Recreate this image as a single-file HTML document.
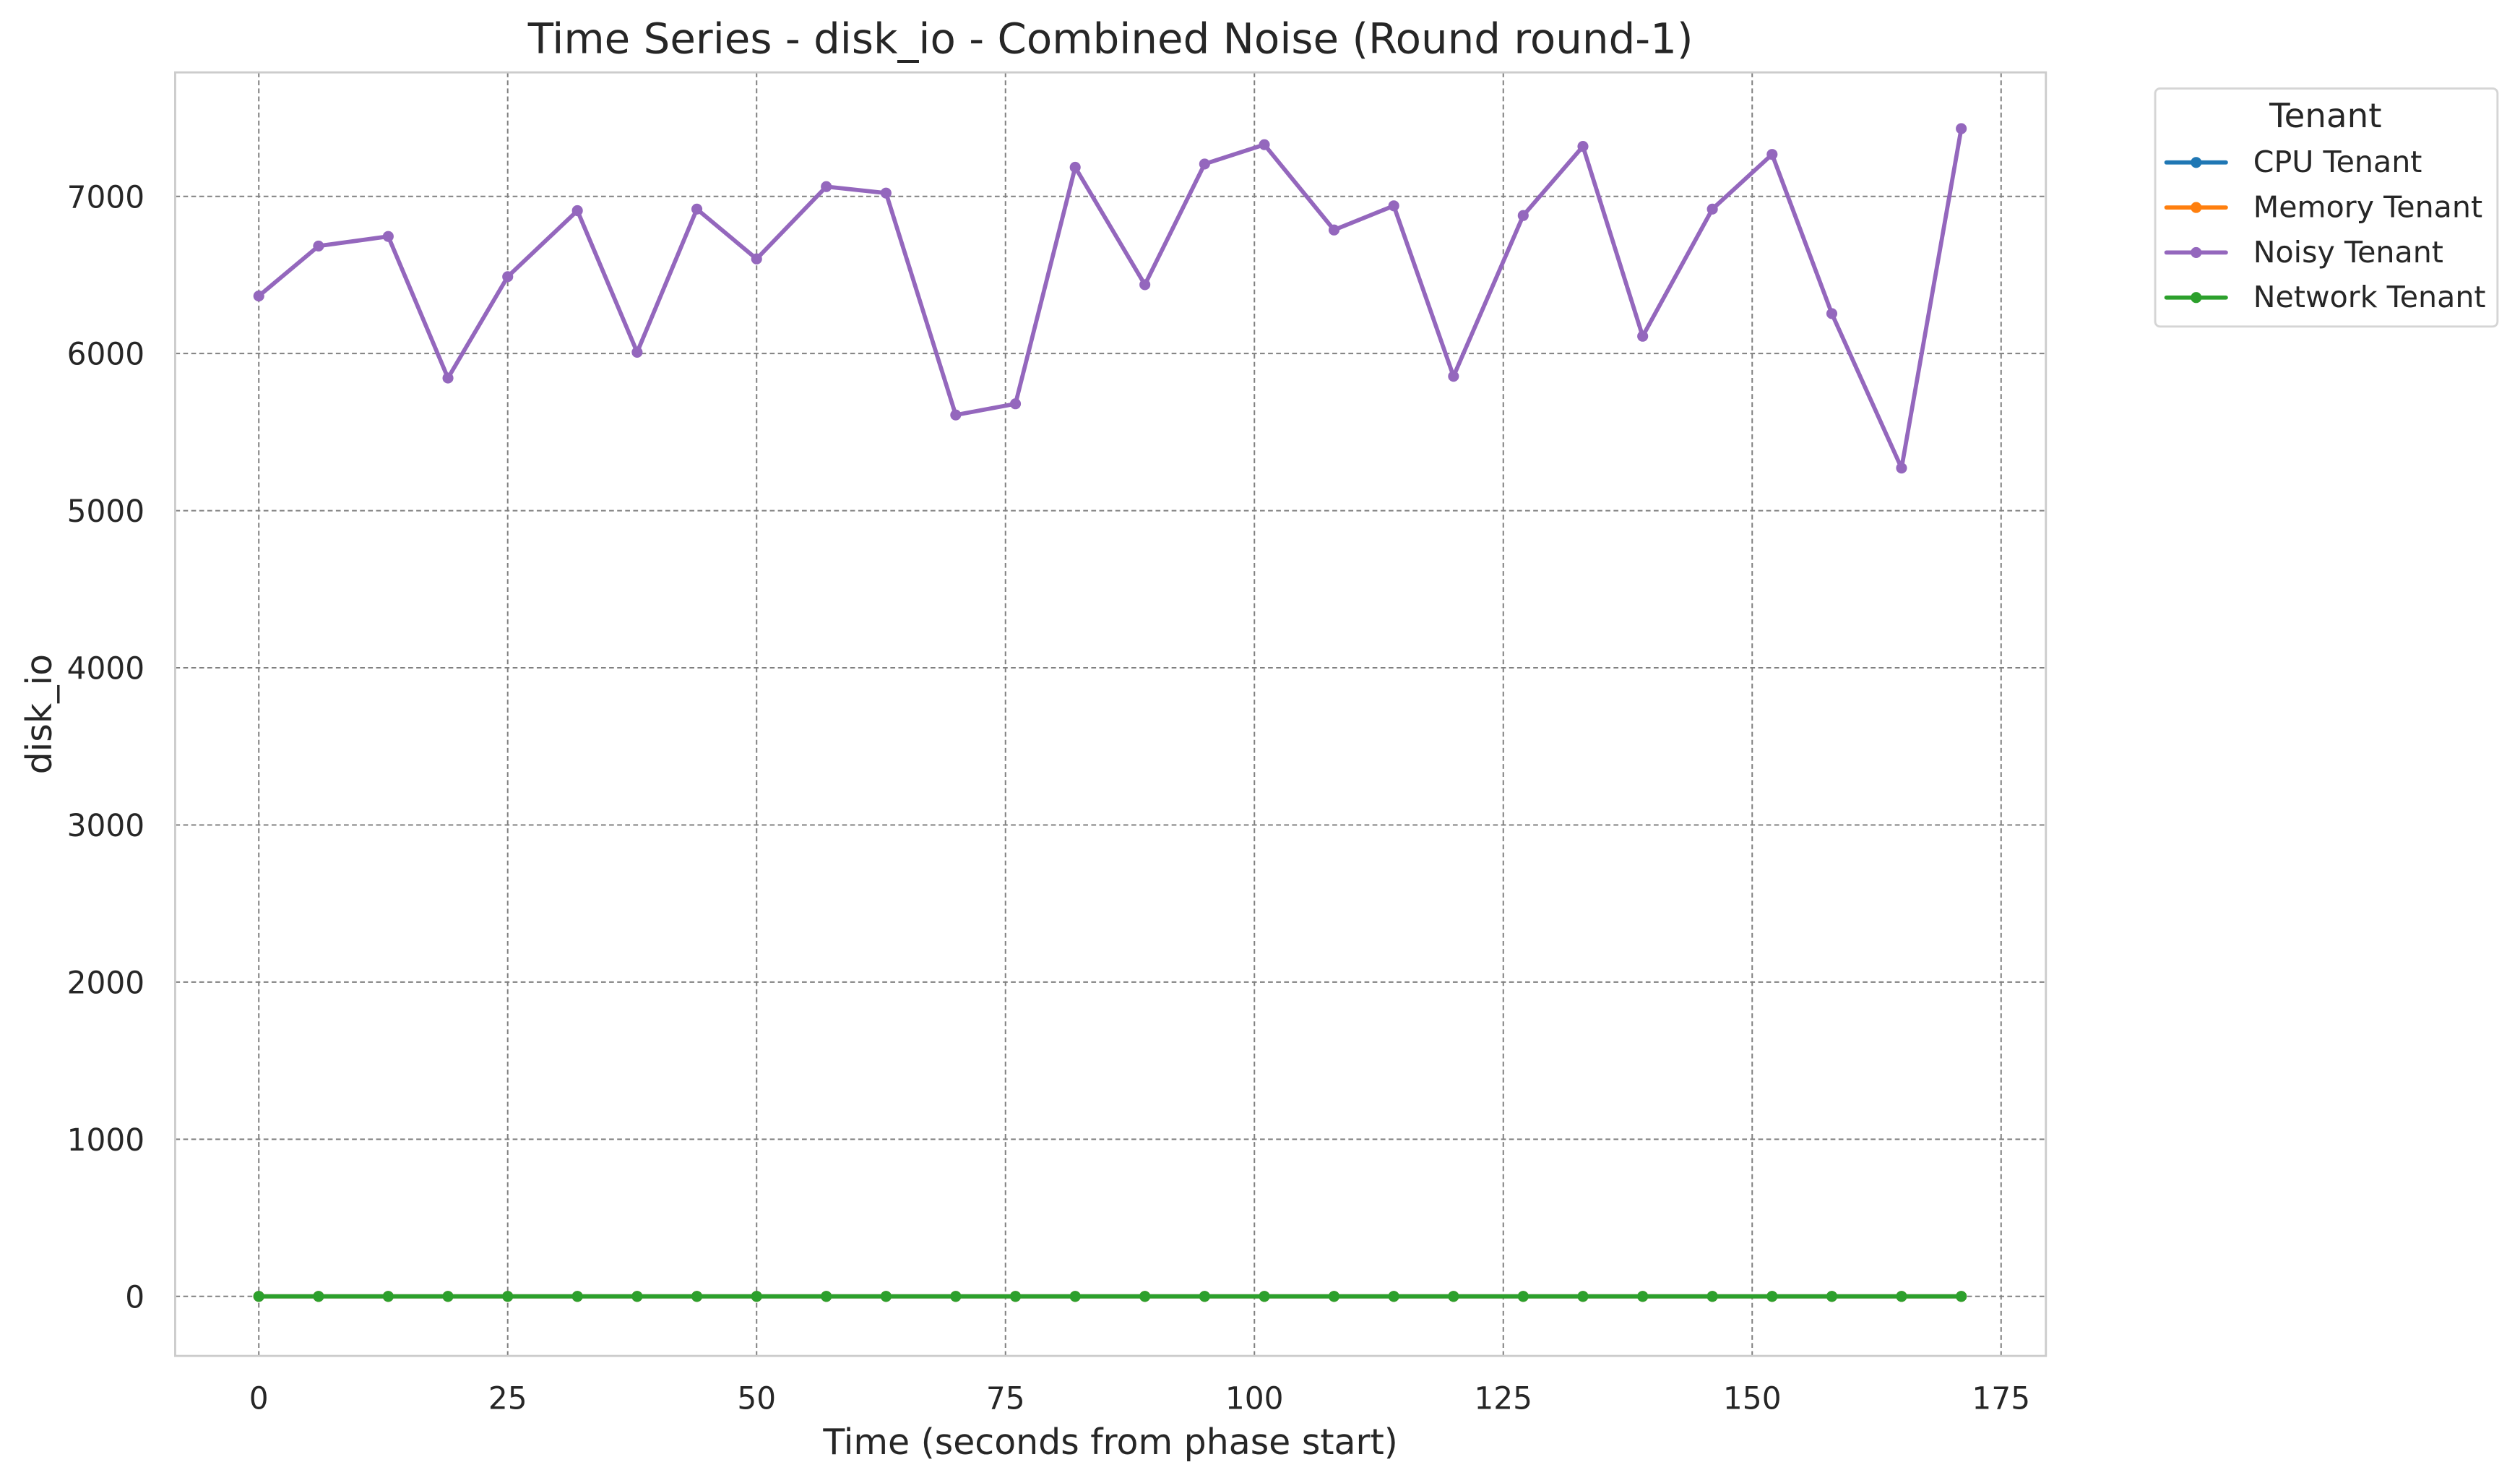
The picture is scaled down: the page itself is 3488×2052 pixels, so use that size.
<!DOCTYPE html>
<html><head><meta charset="utf-8"><style>
html,body{margin:0;padding:0;background:#fff;}
svg{display:block;font-family:"DejaVu Sans","Liberation Sans",sans-serif;}
</style></head><body>
<svg id="chart" width="3488" height="2052" viewBox="0 0 1568 922" preserveAspectRatio="none" xmlns="http://www.w3.org/2000/svg">
<rect width="1568" height="922" fill="#fff"/>
<text x="691" y="33" font-size="26" text-anchor="middle" fill="#262626">Time Series - disk_io - Combined Noise (Round round-1)</text>
<g id="grid"></g>
<g id="ticks"></g>
<rect x="109" y="45" width="1164" height="798" fill="none" stroke="#cccccc" stroke-width="1.3"/>
<g id="series"></g>
<text x="691" y="904" font-size="22" text-anchor="middle" fill="#262626">Time (seconds from phase start)</text>
<text transform="translate(32,444) rotate(-90)" font-size="22" text-anchor="middle" fill="#262626">disk_io</text>
<g>
<rect x="1341" y="55" width="213" height="148" rx="3" fill="#fff" stroke="#d5d5d5" stroke-width="1.3"/>
<text x="1447" y="79" font-size="21" text-anchor="middle" fill="#262626">Tenant</text>
<g id="legend-items"></g>
</g>
</svg>
<script>
const times=[0,6,13,19,25,32,38,44,50,57,63,70,76,82,89,95,101,108,114,120,127,133,139,146,152,158,165,171];
const noisy=[6366,6684,6745,5844,6489,6909,6008,6919,6602,7062,7021,5609,5680,7185,6438,7206,7329,6786,6940,5855,6878,7318,6110,6919,7267,6254,5271,7431];
const cpu=times.map(()=>0);
const memory=times.map(()=>0);
const network=times.map(()=>0);
const xTicks=[0,25,50,75,100,125,150,175];
const yTicks=[0,1000,2000,3000,4000,5000,6000,7000];
const seriesNames=["CPU Tenant","Memory Tenant","Noisy Tenant","Network Tenant"];
const seriesColors=["#1f77b4","#ff7f0e","#9467bd","#2ca02c"];
const seriesData=[cpu,memory,noisy,network];

const NS="http://www.w3.org/2000/svg";
const xMin=-8.4,xMax=179.5,yMin=-379,yMax=7789;
const L=109,R=1273,T=45,B=843;
const xs=v=>L+(v-xMin)/(xMax-xMin)*(R-L);
const ys=v=>B-(v-yMin)/(yMax-yMin)*(B-T);
function mk(tag,attrs,parent){const e=document.createElementNS(NS,tag);for(const k in attrs)e.setAttribute(k,attrs[k]);parent.appendChild(e);return e;}
const grid=document.getElementById('grid'),ticks=document.getElementById('ticks');
xTicks.forEach(t=>{
  const l=mk('line',{x1:xs(t),x2:xs(t),y1:T,y2:B,stroke:'#808080','stroke-width':0.9,'stroke-dasharray':'3,2'},grid);
  
  
  const tx=mk('text',{x:xs(t),y:876,'font-size':19,'text-anchor':'middle',fill:'#262626'},ticks);
  tx.textContent=t;
  
  
});
yTicks.forEach(t=>{
  const l=mk('line',{x1:L,x2:R,y1:ys(t),y2:ys(t),stroke:'#808080','stroke-width':0.9,'stroke-dasharray':'3,2'},grid);
  
  
  const tx=mk('text',{x:L-19,y:ys(t)+7,'font-size':19,'text-anchor':'end',fill:'#262626'},ticks);
  tx.textContent=t;
  
  
});
const sg=document.getElementById('series');
seriesData.forEach((d,i)=>{
  const g=mk('g',{},sg);
  
  
  mk('polyline',{points:d.map((v,j)=>xs(times[j])+','+ys(v)).join(' '),fill:'none',stroke:seriesColors[i],'stroke-width':2.6,'stroke-linejoin':'round'},g);
  d.forEach((v,j)=>{
    const c=mk('circle',{cx:xs(times[j]),cy:ys(v),r:3.4,fill:seriesColors[i]},g);
    
    
  });
});
const lg=document.getElementById('legend-items');
seriesNames.forEach((n,i)=>{
  const y=101+i*28;
  const g=mk('g',{},lg);
  
  
  mk('line',{x1:1348,x2:1385,y1:y,y2:y,stroke:seriesColors[i],'stroke-width':2.6,'stroke-linecap':'round'},g);
  mk('circle',{cx:1366.5,cy:y,r:3.4,fill:seriesColors[i]},g);
  const t=mk('text',{x:1402,y:y+6,'font-size':18.5,fill:'#262626'},g);
  t.textContent=n;
});
</script>
</body></html>
